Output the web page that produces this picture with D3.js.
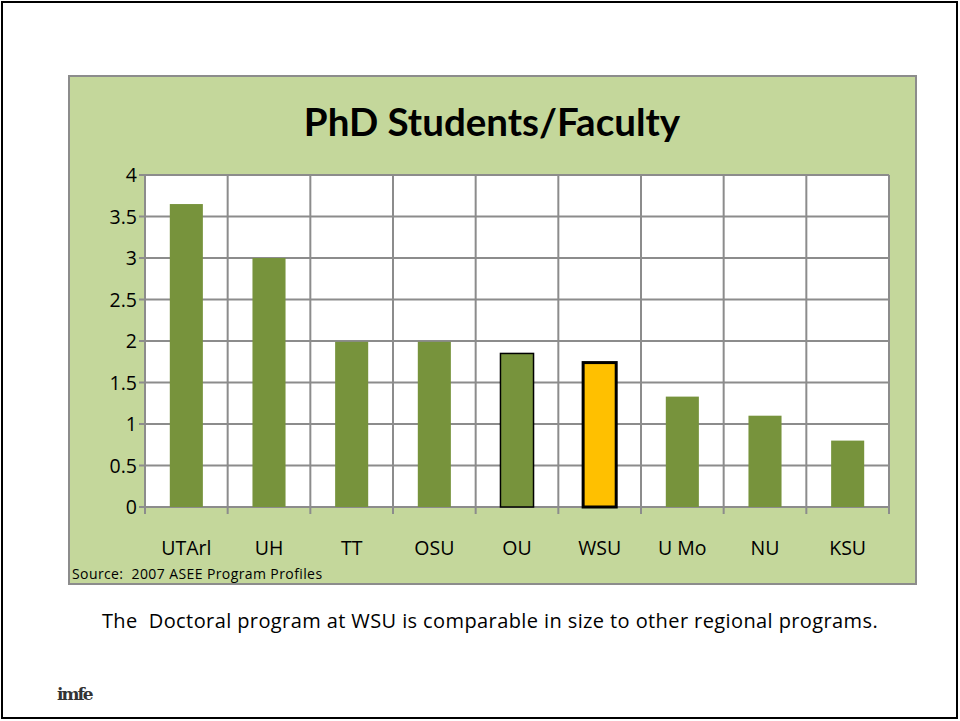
<!DOCTYPE html>
<html>
<head>
<meta charset="utf-8">
<script src="https://cdn.jsdelivr.net/npm/d3@7"></script>
<style>
  body { margin: 0; background: #fff; }
  svg text { font-family: "Open Sans", sans-serif; white-space: pre; }
</style>
</head>
<body>
<div id="chart"></div>
<script>
  let schools = ['UTArl', 'UH', 'TT', 'OSU', 'OU', 'WSU', 'U Mo', 'NU', 'KSU'];
  let ratios = [3.65, 3.0, 1.99, 1.99, 1.85, 1.74, 1.33, 1.10, 0.80];
  let yTicks = [0, 0.5, 1, 1.5, 2, 2.5, 3, 3.5, 4];

  let width = 960;
  let height = 721;

  let svg = d3.select('#chart')
    .append('svg')
    .attr('width', width)
    .attr('height', height);

  // slide frame
  svg.append('rect')
    .attr('x', 2).attr('y', 2)
    .attr('width', 955).attr('height', 716)
    .attr('fill', '#fff')
    .attr('stroke', '#000')
    .attr('stroke-width', 2);

  // chart panel
  svg.append('rect')
    .attr('x', 69).attr('y', 76)
    .attr('width', 847).attr('height', 508)
    .attr('fill', '#c4d79b')
    .attr('stroke', '#8c8c8c')
    .attr('stroke-width', 2);

  svg.append('text')
    .attr('x', 492).attr('y', 136)
    .attr('text-anchor', 'middle')
    .style('font-family', 'Lato, sans-serif')
    .style('font-size', '38.5px')
    .style('font-weight', 'bold')
    .text('PhD Students/Faculty');

  let plot = { left: 145, right: 889, top: 175, bottom: 507 };

  let x = d3.scaleBand()
    .domain(schools)
    .range([plot.left, plot.right])
    .paddingInner(0.6)
    .paddingOuter(0.3);

  let xEdge = d3.scaleLinear()
    .domain([0, schools.length])
    .range([plot.left, plot.right]);

  let y = d3.scaleLinear()
    .domain([0, 4])
    .range([plot.bottom, plot.top]);

  svg.append('rect')
    .attr('x', plot.left).attr('y', plot.top)
    .attr('width', plot.right - plot.left)
    .attr('height', plot.bottom - plot.top)
    .attr('fill', '#fff');

  // horizontal gridlines
  svg.append('g')
    .selectAll('line')
    .data(yTicks)
    .enter()
    .append('line')
    .attr('x1', plot.left - 6)
    .attr('x2', plot.right)
    .attr('y1', d => y(d))
    .attr('y2', d => y(d))
    .attr('stroke', '#8c8c8c')
    .attr('stroke-width', 2);

  // vertical gridlines with ticks below the axis
  svg.append('g')
    .selectAll('line')
    .data(d3.range(schools.length + 1))
    .enter()
    .append('line')
    .attr('x1', d => xEdge(d))
    .attr('x2', d => xEdge(d))
    .attr('y1', plot.top)
    .attr('y2', plot.bottom + 7)
    .attr('stroke', '#8c8c8c')
    .attr('stroke-width', 2);

  svg.append('g')
    .selectAll('text')
    .data(yTicks)
    .enter()
    .append('text')
    .attr('x', plot.left - 8)
    .attr('y', d => y(d) + 7)
    .attr('text-anchor', 'end')
    .style('font-size', '19.5px')
    .text(d => d);

  svg.append('g')
    .selectAll('rect')
    .data(schools)
    .enter()
    .append('rect')
    .attr('x', d => x(d))
    .attr('y', (d, i) => y(ratios[i]))
    .attr('width', x.bandwidth())
    .attr('height', (d, i) => y(0) - y(ratios[i]))
    .attr('fill', d => d === 'WSU' ? '#ffc000' : '#77933c')
    .attr('stroke', d => d === 'WSU' || d === 'OU' ? '#000' : 'none')
    .attr('stroke-width', d => d === 'WSU' ? 3 : 1.5);

  svg.append('g')
    .selectAll('text')
    .data(schools)
    .enter()
    .append('text')
    .attr('x', d => x(d) + x.bandwidth() / 2)
    .attr('y', 555)
    .attr('text-anchor', 'middle')
    .style('font-size', '19.5px')
    .text(d => d);

  svg.append('text')
    .attr('x', 72).attr('y', 579)
    .style('font-size', '14px')
    .style('letter-spacing', '0.4px')
    .text('Source:  2007 ASEE Program Profiles');

  svg.append('text')
    .attr('x', 490).attr('y', 628)
    .attr('text-anchor', 'middle')
    .style('font-size', '20px')
    .style('letter-spacing', '0.4px')
    .text('The  Doctoral program at WSU is comparable in size to other regional programs.');

  // little logo mark
  svg.append('text')
    .attr('x', 57).attr('y', 700)
    .style('font-family', '"DejaVu Serif", serif')
    .style('font-size', '17px')
    .style('font-weight', 'bold')
    .style('letter-spacing', '-2px')
    .attr('fill', '#333')
    .text('imfe');
</script>
</body>
</html>
